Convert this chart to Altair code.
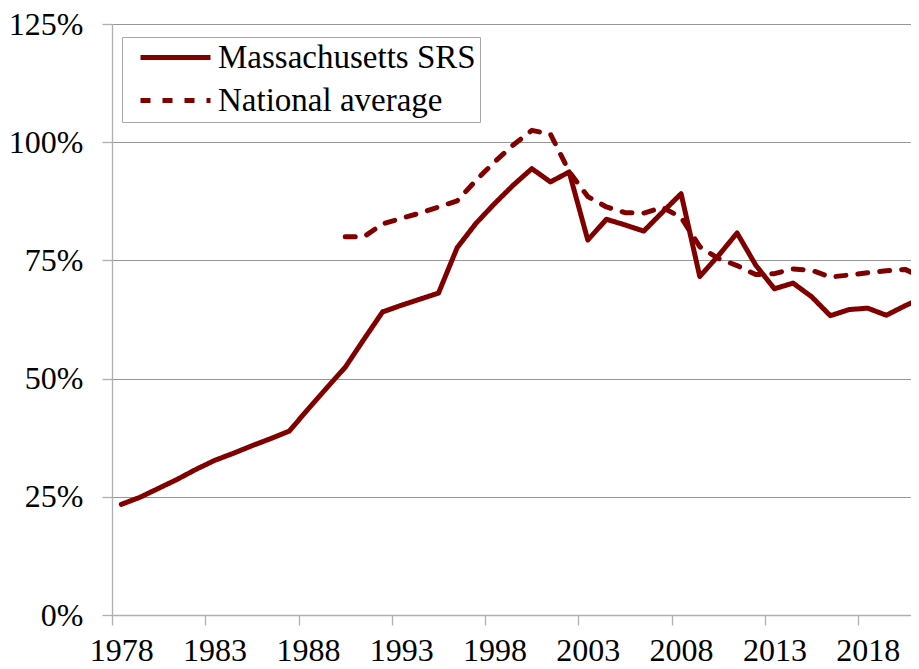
import altair as alt
import pandas as pd

# --- data (percent) ---
years_ma = list(range(1978, 2022))
ma_srs = [23.4, 24.9, 26.8, 28.7, 30.8, 32.7, 34.2, 35.8, 37.3, 38.9,
          43.5, 48.0, 52.4, 58.3, 64.1, 65.5, 66.8, 68.1, 77.7, 82.8,
          87.0, 90.9, 94.4, 91.6, 93.7, 79.3, 83.7, 82.5, 81.2, 85.2,
          89.1, 71.6, 76.0, 80.8, 74.0, 69.0, 70.2, 67.3, 63.3, 64.6,
          64.9, 63.4, 65.4, 67.2]

years_nat = list(range(1990, 2022))
national = [80.0, 80.0, 82.7, 83.9, 85.0, 86.3, 87.6, 91.9, 95.8, 99.4,
            102.5, 101.7, 93.8, 88.5, 86.3, 85.1, 85.0, 86.2, 84.1, 77.9,
            75.4, 73.9, 72.0, 72.2, 73.2, 72.9, 71.5, 71.9, 72.4, 72.8,
            73.1, 71.3]

series_names = ["Massachusetts SRS", "National average"]
x_tick_years = [1978, 1983, 1988, 1993, 1998, 2003, 2008, 2013, 2018]
y_ticks = [0, 25, 50, 75, 100, 125]

rows = [{"year": y, "value": v, "series": series_names[0]} for y, v in zip(years_ma, ma_srs)]
rows += [{"year": y, "value": v, "series": series_names[1]} for y, v in zip(years_nat, national)]
df = pd.DataFrame(rows)

FONT = "Liberation Serif, Times New Roman, Times, serif"
RED = "#800000"
px_per_year = 807 / 43.25
plot_w = 799
x_end = 1977.5 + plot_w / px_per_year

chart = alt.Chart(df).mark_line(
    clip=True, strokeWidth=5, strokeCap="round", strokeJoin="round", color=RED
).encode(
    x=alt.X("year:Q",
            scale=alt.Scale(domain=[1977.5, x_end], nice=False, zero=False),
            axis=alt.Axis(values=[y - 0.5 for y in x_tick_years],
                          labelExpr="format(datum.value + 0.5, 'd')",
                          labelOffset=px_per_year / 2,
                          labelFlush=False, labelOverlap=False, labelBound=False,
                          grid=False, tickSize=10, labelPadding=10,
                          title=None)),
    y=alt.Y("value:Q",
            scale=alt.Scale(domain=[0, 125], nice=False),
            axis=alt.Axis(values=y_ticks, labelExpr="datum.value + '%'",
                          grid=True, tickSize=10, labelPadding=19,
                          title=None)),
    strokeDash=alt.StrokeDash(
        "series:N",
        scale=alt.Scale(domain=series_names, range=[[1, 0], [10, 12]]),
        legend=alt.Legend(
            title=None, orient="none", legendX=10, legendY=13,
            symbolType="M-7,0H7", symbolSize=100, symbolStrokeWidth=5,
            symbolStrokeColor=RED, symbolOffset=33,
            labelOffset=26, labelFont=FONT, labelFontSize=33,
            labelColor="black", labelLimit=500,
            rowPadding=9, padding=4,
            strokeColor="#a6a6a6", fillColor="white",
        ),
    ),
).properties(
    width=plot_w, height=591,
    autosize=alt.AutoSizeParams(type="none"),
    padding={"left": 104, "top": 16, "right": 0, "bottom": 54},
).configure_view(
    stroke=None
).configure_axis(
    labelFont=FONT, labelFontSize=32, labelColor="black",
    domainColor="#b0b0b0", domainWidth=1.3,
    tickColor="#b0b0b0", tickWidth=1.3,
    gridColor="#969696", gridWidth=1.2,
)

chart.save("out.html", embed_options={"renderer": "svg", "actions": False})
